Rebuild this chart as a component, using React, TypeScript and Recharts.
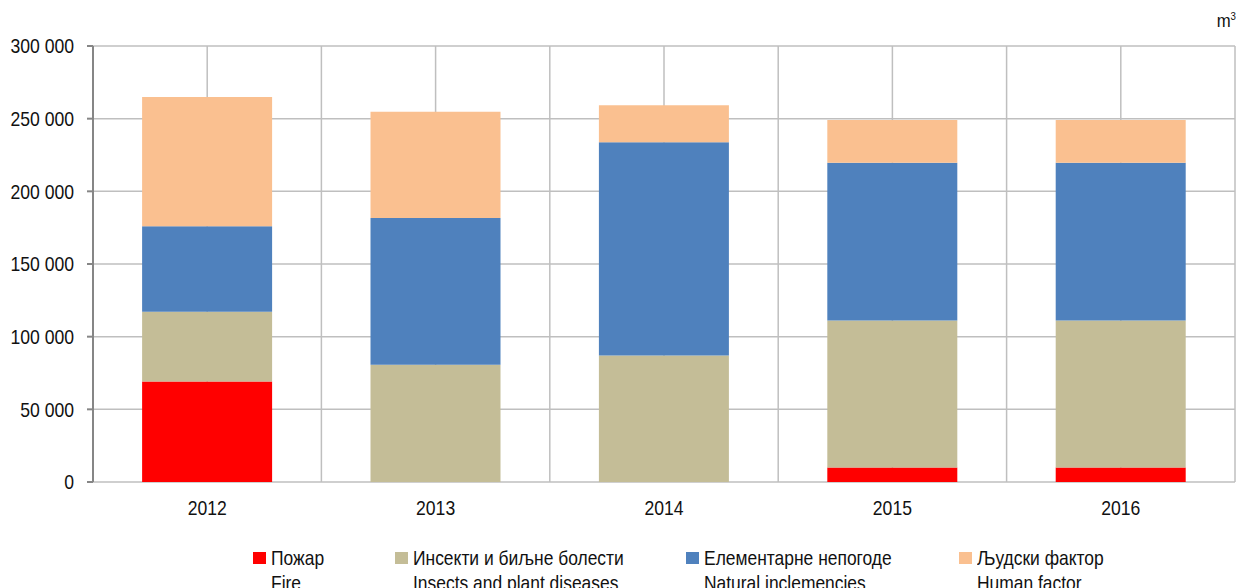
import React from "react";
import {
  BarChart,
  Bar,
  XAxis,
  YAxis,
  CartesianGrid,
  Legend,
} from "recharts";

const years = ["2012", "2013", "2014", "2015", "2016"];
const fire = [69200, 0, 0, 10000, 10000];
const insects = [48000, 80700, 87100, 101200, 101200];
const natural = [58800, 101000, 146600, 108400, 108400];
const human = [88900, 73000, 25600, 29400, 29400];
const yTicks = [0, 50000, 100000, 150000, 200000, 250000, 300000];

const series = [
  { key: "fire", name: "Пожар", en: "Fire", color: "#FF0000" },
  { key: "insects", name: "Инсекти и биљне болести", en: "Insects and plant diseases", color: "#C4BD97" },
  { key: "natural", name: "Елементарне непогоде", en: "Natural inclemencies", color: "#4F81BD" },
  { key: "human", name: "Људски фактор", en: "Human factor", color: "#FAC090" },
];

const data = years.map((year, i) => ({
  year,
  fire: fire[i],
  insects: insects[i],
  natural: natural[i],
  human: human[i],
}));

const FONT = '"Liberation Sans", Arial, sans-serif';
const SQUEEZE = 0.88;

const fmt = (v: number) => {
  if (v === 0) return "0";
  return String(v).replace(/\B(?=(\d{3})+(?!\d))/g, " ");
};

// narrow-ish text, like Arial Narrow in the original
const YTick = ({ x, y, payload }: any) => (
  <text
    transform={`translate(${x},${y}) scale(${SQUEEZE},1)`}
    textAnchor="end"
    dy="0.36em"
    fontFamily={FONT}
    fontSize={20}
    fill="#111"
  >
    {fmt(payload.value)}
  </text>
);

const XTick = ({ x, y, payload }: any) => (
  <text
    transform={`translate(${x},${y}) scale(${SQUEEZE},1)`}
    textAnchor="middle"
    dy="0.71em"
    fontFamily={FONT}
    fontSize={20}
    fill="#111"
  >
    {payload.value}
  </text>
);

const itemWidths = [142, 291, 273, 200];

const LegendContent = () => (
  <div
    style={{
      display: "flex",
      boxSizing: "border-box",
      paddingLeft: 253,
      paddingTop: 5,
      height: 48,
      fontFamily: FONT,
      fontSize: 21,
      lineHeight: "25px",
      color: "#111",
    }}
  >
    {series.map((s, i) => (
      <div key={s.key} style={{ display: "flex", alignItems: "flex-start", width: itemWidths[i] }}>
        <span
          style={{
            width: 13,
            height: 12,
            background: s.color,
            marginTop: 7,
            marginRight: 5,
            flex: "none",
          }}
        />
        <div style={{ transform: "scaleX(0.83)", transformOrigin: "left top", whiteSpace: "nowrap" }}>
          <div>{s.name}</div>
          <div>{s.en}</div>
        </div>
      </div>
    ))}
  </div>
);

export default function App() {
  return (
    <div style={{ position: "absolute", left: 0, top: 0, width: 1239, height: 588, background: "#fff" }}>
      <div
        style={{
          position: "absolute",
          right: 3,
          top: 10,
          fontFamily: FONT,
          fontSize: 19,
          color: "#111",
          transform: `scaleX(${SQUEEZE})`,
          transformOrigin: "right top",
        }}
      >
        m<sup style={{ fontSize: 11 }}>3</sup>
      </div>
      <BarChart
        width={1239}
        height={588}
        data={data}
        margin={{ top: 46, right: 4, left: 0, bottom: 0 }}
        barCategoryGap="21.5%"
      >
        <CartesianGrid
          stroke="#BFBFBF"
          strokeWidth={1.5}
          verticalCoordinatesGenerator={({ offset }: any) =>
            Array.from({ length: 11 }, (_, i) => offset.left + (i * offset.width) / 10)
          }
        />
        <XAxis
          xAxisId="b"
          type="number"
          domain={[0, 5]}
          ticks={[0, 1, 2, 3, 4, 5]}
          tickFormatter={() => ""}
          height={0}
          stroke="#868686"
          strokeWidth={2}
          tickSize={6}
        />
        <XAxis
          dataKey="year"
          height={58}
          axisLine={false}
          tickLine={false}
          tickSize={0}
          tickMargin={19}
          tick={<XTick />}
        />
        <YAxis
          width={93}
          domain={[0, 300000]}
          ticks={yTicks}
          stroke="#868686"
          strokeWidth={2}
          tickSize={6}
          tickMargin={13}
          tick={<YTick />}
        />
        {series.map((s) => (
          <Bar
            key={s.key}
            dataKey={s.key}
            name={s.name}
            stackId="a"
            fill={s.color}
            isAnimationActive={false}
          />
        ))}
        <Legend verticalAlign="bottom" content={<LegendContent />} />
      </BarChart>
    </div>
  );
}
